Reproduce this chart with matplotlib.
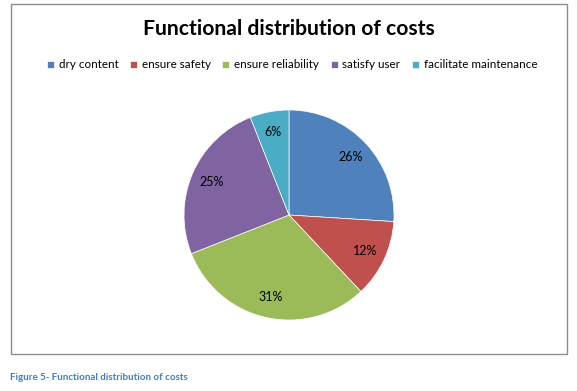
import matplotlib.pyplot as plt
from matplotlib.patches import Rectangle

labels = ['dry content', 'ensure safety', 'ensure reliability', 'satisfy user', 'facilitate maintenance']
shares = [26, 12, 31, 25, 6]
colors = ['#4F81BD', '#C0504D', '#9BBB59', '#8064A2', '#4BACC6']

plt.rcParams['font.family'] = ['Lato', 'DejaVu Sans']

W, H = 577, 391
fig = plt.figure(figsize=(W / 100, H / 100), dpi=100)

# chart frame
fig.patches.append(Rectangle((11 / W, 1 - 354 / H), 556 / W, 350 / H,
                             transform=fig.transFigure, fill=False,
                             edgecolor='#8c8c8c', linewidth=1.0))

fig.text(289 / W, 1 - 29 / H, 'Functional distribution of costs',
         ha='center', va='center', fontsize=15.2, fontweight='bold')

# pie axes: center (289, 215), radius ~105 px
r = 105
ax = fig.add_axes([(289 - r) / W, 1 - (215 + r) / H, 2 * r / W, 2 * r / H])
wedges, _, autotexts = ax.pie(shares, colors=colors, startangle=90, counterclock=False,
                              autopct='%d%%', pctdistance=0.8, radius=1.0,
                              wedgeprops=dict(linewidth=0.5, edgecolor='white'),
                              textprops=dict(fontsize=9, color='black'))
ax.set_xlim(-1, 1)
ax.set_ylim(-1, 1)
ax.set_aspect('auto')
ax.axis('off')

fig.legend(wedges, labels, loc='center', bbox_to_anchor=(292 / W, 1 - 65 / H),
           ncol=5, frameon=False, fontsize=8.4, handlelength=0.6, handleheight=0.6,
           handletextpad=0.4, columnspacing=1.0)

fig.text(10 / W, 1 - 378 / H, 'Figure 5- Functional distribution of costs',
         ha='left', va='center', fontsize=7, fontweight='bold', color='#3F7EC0')

fig.savefig('out.png', dpi=100)
